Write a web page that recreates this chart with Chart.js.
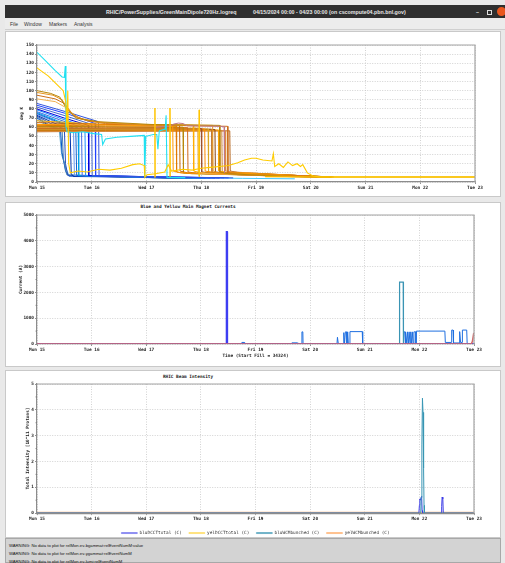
<!DOCTYPE html>
<html><head><meta charset="utf-8">
<script src="https://cdn.jsdelivr.net/npm/chart.js@4.4.1/dist/chart.umd.min.js"></script>
<style>
html,body{margin:0;padding:0;}
body{width:505px;height:563px;position:relative;overflow:hidden;background:#e9e9e9;font-family:"Liberation Sans",sans-serif;}
.a{position:absolute;white-space:pre;}
#titlebar{left:5px;top:5px;width:500px;height:13px;background:#2f2f2f;}
.tt{color:#e6e6e6;font:bold 5.3px "Liberation Sans";line-height:6px;top:9px;}
#menubar{left:5px;top:18px;width:500px;height:11px;background:#ececec;border-bottom:1px solid #cfcfcf;}
.mi{color:#333;font:5px "Liberation Sans";line-height:6px;top:21px;}
.panel{background:#fff;border:1px solid #c9c9c9;box-sizing:border-box;}
.ptitle{font:bold 4.4px "DejaVu Sans Mono",monospace;color:#222;line-height:5px;text-align:center;width:200px;}
canvas{position:absolute;}
#warn{left:5px;top:538px;width:496px;height:25px;background:#d3d3d3;border:1px solid #a8a8a8;box-sizing:border-box;z-index:5;}
.wl{font:4.2px "Liberation Sans";color:#111;line-height:5px;left:9px;z-index:6;}
</style>
</head><body>
<div class="a" id="titlebar"></div>
<div class="a tt" style="left:106px;">RHIC/PowerSupplies/GreenMainDipole720Hz.logreq</div>
<div class="a tt" style="left:253px;">04/15/2024 00:00 - 04/23 00:00 (on cscompute04.pbn.bnl.gov)</div>
<div class="a tt" style="left:476px;">–</div>
<div class="a" style="left:487px;top:10px;width:3px;height:3px;border:0.7px solid #ddd;"></div>
<div class="a" style="left:497px;top:7px;width:9px;height:9px;border-radius:50%;background:#e9571f;"></div>
<div class="a" id="menubar"></div>
<div class="a mi" style="left:10px;">File</div>
<div class="a mi" style="left:24px;">Window</div>
<div class="a mi" style="left:49px;">Markers</div>
<div class="a mi" style="left:74px;">Analysis</div>

<div class="a panel" style="left:5px;top:31px;width:496px;height:166px;"></div>
<div class="a panel" style="left:5px;top:202px;width:496px;height:165px;"></div>
<div class="a panel" style="left:5px;top:370px;width:496px;height:168px;"></div>
<div class="a ptitle" style="left:88px;top:204px;">Blue and Yellow Main Magnet Currents</div>
<div class="a ptitle" style="left:88px;top:374px;">RHIC Beam Intensity</div>

<canvas id="c1" width="496" height="166" style="left:5px;top:31px;"></canvas>
<canvas id="c2" width="496" height="164" style="left:5px;top:203px;"></canvas>
<canvas id="c3" width="496" height="176" style="left:5px;top:370px;"></canvas>

<div class="a" id="warn"></div>
<div class="a wl" style="top:542.5px;">WARNING: No data to plot for relMon.ev-bgammat:relEventNumM:value</div>
<div class="a wl" style="top:550.8px;">WARNING: No data to plot for relMon.ev-ygammat:relEventNumM</div>
<div class="a wl" style="top:559.2px;">WARNING: No data to plot for relMon.ev-lumi:relEventNumM</div>

<script>
// ---------- DATA (x = hours since Mon 15 00:00) ----------
const dayLabels = ['Mon 15','Tue 16','Wed 17','Thu 18','Fri 19','Sat 20','Sun 21','Mon 22','Tue 23'];

// top panel: magnet temperatures (deg K)
const blueTraces = [
 [[0,86],[14,76],[27,66],[27.2,7],[45,6],[86,4.5]],
 [[0,84],[14,74],[25.5,64],[25.7,7],[45,6],[84,4.5]],
 [[0,82],[13,72],[24,63],[24.2,7],[45,6],[82,4.5]],
 [[0,80],[12,70],[22.5,62],[22.7,7],[45,5.8],[80,4.5]],
 [[0,79],[11,69],[21,61],[21.3,7],[45,5.8],[78,4.2]],
 [[0,77],[10,68],[19.5,60],[19.8,7],[45,5.5],[76,4.2]],
 [[0,76],[9,67],[18,59],[18.3,7],[45,5.5],[74,4]],
 [[0,75],[8,67],[17,58],[17.4,7],[45,5.5],[72,4]],
 [[0,74],[8,66],[16,58],[16.4,7],[45,5.5],[70,4]],
 [[0,73],[7,65],[14.5,58],[15,9],[16,6],[45,5.5],[68,4]],
 [[0,72],[6,64],[12,58],[12.5,20],[13.5,7],[45,5.2],[66,4]],
 [[0,71],[5,63],[11,57],[11.6,25],[13,8],[45,5.2],[64,4]],
 [[0,70],[5,62],[10.3,57],[11,32],[12.5,12],[14,6.5],[45,5.2],[62,4]],
 [[0,68],[5,61],[9.8,56],[10.8,30],[13,13],[14,7],[45,5],[60,4]]
];
const orangeTraces = [
 [[0,63],[30,62.5],[59.5,61.5],[59.7,12],[63,10],[95,8],[115,6],[128,5.5]],
 [[0,62],[30,61.5],[61,61],[61.2,11],[65,9.5],[95,8],[115,6],[127,5.5]],
 [[0,65],[30,63],[62.5,62],[62.7,12],[66,10],[95,7.5],[115,6],[126,5.5]],
 [[0,61],[30,60.5],[64,60],[64.2,10],[68,9],[95,7.5],[115,6],[128,5.5]],
 [[0,60.5],[30,60],[66,59.5],[66.2,11],[70,9.5],[95,8],[115,6.5],[129,5.5]],
 [[0,67],[30,63],[68.5,62],[68.7,12],[72,10],[95,8.5],[115,6.5],[128,5.5]],
 [[0,59.5],[30,59],[70.5,59],[70.7,10],[74,9],[95,7.5],[115,6],[127,5.5]],
 [[0,59],[30,58.5],[72,58.5],[72.2,11],[76,10],[95,8],[115,6.5],[129,5.5]],
 [[0,58.5],[30,58.5],[73.5,58],[73.7,12],[77,10.5],[95,9],[115,7],[128,5.5]],
 [[0,58],[30,58],[75,58],[75.2,11],[79,10],[95,9],[115,7],[129,5.5]],
 [[0,57.5],[30,57.5],[76.5,58],[76.7,10],[80,9.5],[95,8.5],[115,6.5],[128,5.5]],
 [[0,57],[30,57],[78,57.5],[78.2,11],[82,10],[95,9],[115,7],[129,5.5]],
 [[0,56.5],[30,56.5],[79.5,57],[79.7,12],[83,10.5],[95,9.5],[115,7],[128,5.5]],
 [[0,56],[30,56],[81,56.5],[81.2,11],[85,10],[95,9],[115,7],[129,5.5]],
 [[0,55.5],[30,55.5],[82.5,56],[82.7,12],[86,11],[100,9],[115,7],[130,5.5]],
 [[0,55],[30,55.5],[84.5,56],[84.7,12],[88,10.5],[100,9],[115,7],[130,5.5]]
];
const highTraces = [
 [[0,100],[6,97],[10,93],[13,80],[17,70],[27,66],[50,63],[80,62],[80.2,11],[84,9],[110,6],[129,5.5]],
 [[0,98],[7,95],[11,90],[14,78],[19,69],[28,65],[50,62.5],[77,62],[77.2,12],[80,9],[110,6],[128,5.5]],
 [[0,95],[8,91],[12,86],[16,73],[22,67],[30,64],[55,62],[83.5,61],[83.7,10],[88,8],[110,6],[129,5.5]],
 [[0,91],[8,88],[13,81],[17,71],[25,66],[40,63],[70,62],[71,61.5],[71.2,10],[75,9],[110,6],[127,5.5]]
];
const cyanTrace = [[0,142],[4,132],[8,122],[11,115],[12,114.5],[12.4,127],[12.7,60],[13.2,55],[16,54],[20,55],[25,53],[28.3,52],[28.8,41],[30,47],[35,49],[41,50],[47,51],[47.2,5.5],[47.7,50],[51,52],[52.5,52],[53,36],[53.6,56],[56.2,58],[56.6,73],[57,5],[65,4.8]];
const cyanLowTrace = [[47,5.5],[70,4.5],[90,4],[113,3.5]];
const yellowTrace = [[0,125],[5,116],[9,106],[11.5,100],[12.6,88],[13.1,60],[13.5,100],[13.9,20],[14.6,10],[18,12],[22,11],[27,14],[32,13],[37,15],[42,19],[45,20],[47,18],[47.3,5],[48.2,8],[52,9],[56,11],[57.5,19],[59,12],[64,14],[68,13],[72,15],[76,16],[80,17],[84,18],[88,21],[91,24],[94,26],[96,26],[99,24],[103,23],[103.6,31],[104.2,17],[106,20],[108,16],[110,22],[112,18],[114,20],[115.5,17],[116.5,19],[118.5,10],[121,6.5],[124,5.5],[192,5.5]];
const yellowSpikes = [
 [[51.6,5],[51.7,81],[51.8,5]],
 [[58.2,6],[58.3,81],[58.4,6]],
 [[71.0,6],[71.1,79],[71.2,6]]
];
const mauveTrace = [[52,60],[58,61],[60,63.5],[62,64.5],[64,64],[66,61.5],[80,61],[82,60.5],[82.2,10]];
const tailTrace = [[100,6],[130,5.5],[192,5.5]];

// middle panel: main magnet currents (A)
const bluCurrentA = [[0,0],[83.1,0],[83.2,4350],[83.6,4350],[83.7,0],[192,0]];
const bluCurrentB = [[89.8,0],[90,60],[91,60],[91.2,0],[111.8,0],[112,45],[114.4,45],[114.6,0],[116.3,0],[116.4,470],[116.8,470],[116.9,0],[131.8,0],[132,260],[132.4,0],[134.6,0],[134.8,440],[135.1,0],[135.5,470],[136,470],[136.2,0],[136.5,470],[136.8,0],[137.3,0],[137.5,480],[142.9,480],[143.1,0],[161.1,0],[161.3,470],[161.7,470],[161.8,0],[162.1,470],[162.5,0],[162.8,470],[163.2,0],[163.5,470],[163.9,0],[164.2,470],[164.6,0],[164.9,470],[165.3,0],[165.6,470],[166.4,470],[166.5,30],[166.7,500],[179.2,500],[179.4,60],[182,60],[182.2,540],[182.8,540],[183,40],[185.5,40],[185.7,480],[186.1,60],[186.8,60],[186.9,540],[188.8,540],[189,0],[192,0]];
const tealCurrent = [[159.1,0],[159.3,2400],[160.9,2400],[161.0,0]];
const yelCurrent = [[0,0],[190.8,0],[191.3,100],[191.9,430]];

// bottom panel: beam intensity (10^11 protons)
const bluDCCTtotal = [[0,0],[167.8,0],[168,0.3],[168.2,0.55],[168.5,0.5],[168.8,0.62],[169,0.65],[169.2,0.1],[169.4,0],[177.6,0],[177.8,0.25],[178,0.62],[178.3,0.55],[178.5,0],[192,0]];
const yelDCCTtotal = [[0,0],[192,0]];
const bluWCMbunched = [[0,0],[168.6,0],[168.8,0.6],[169.1,2.64],[169.35,4.45],[169.6,3.9],[169.85,1.74],[170.05,0.3],[170.2,0],[192,0]];
const yelWCMbunched = [[0,0],[192,0]];

// ---------- STYLES ----------
const blueColors = ['#3355dd','#2244ff','#4466cc','#0000dd','#1e90ff','#4169e1','#00a0e6','#1060d0','#6495ed','#0033aa','#2a52be','#4682b4','#0050c8','#5fa8d0'];
const orangeColors = ['#ff9900','#e07b00','#c8640a','#b8860b','#d2691e','#ffae00','#e6a020','#a0522d','#ff8c00','#daa520','#c07830','#8b4513','#ffa500','#cd853f','#e09040','#b5651d'];
const highColors = ['#b8860b','#e69520','#cc6f1a','#f0b050'];

const TF = {family:'"DejaVu Sans Mono", monospace', size:4.4, weight:'bold'};
const GRID = {color:'#c6c6c6', lineWidth:0.8, tickLength:2, tickColor:'#777', tickWidth:0.8};
const BORDER = {display:true, color:'#8c8c8c', width:1.2, dash:[1,1.5]};

function xAxis(h, title){
  return {type:'linear', min:0, max:192,
    afterFit(s){ s.height = h; },
    ticks:{stepSize:24, autoSkip:false, maxRotation:0, minRotation:0, padding:1, color:'#222', font:TF,
      callback:(v)=>dayLabels[Math.round(v/24)]},
    grid:GRID, border:BORDER,
    title: title ? {display:true, text:title, color:'#222', font:TF, padding:{top:0,bottom:1.3}} : {display:false}};
}
function yAxis(w, max, step, title, tpad){
  return {type:'linear', min:0, max:max,
    afterFit(s){ s.width = w; },
    ticks:{stepSize:step, autoSkip:false, padding:1, color:'#222', font:TF, callback:(v)=>String(v)},
    grid:GRID, border:BORDER,
    title:{display:true, text:title, color:'#222', font:TF, padding:{top:tpad,bottom:0}}};
}
function ds(label, data, color, width){
  return {label, data, borderColor:color, backgroundColor:color, borderWidth:width||1, pointRadius:0, tension:0, fill:false};
}
const framePlugin = {id:'frame', afterDraw(c){
  const a=c.chartArea, ctx=c.ctx; ctx.save(); ctx.strokeStyle='#a4a4a4'; ctx.lineWidth=1.2;
  ctx.beginPath(); ctx.moveTo(a.left,a.top); ctx.lineTo(a.right,a.top); ctx.lineTo(a.right,a.bottom); ctx.stroke(); ctx.restore();
}};
const minorPlugin = {id:'minorTicks', afterDraw(c, args, opts){
  if(!opts || !opts.step) return; const s=c.scales.y, ctx=c.ctx;
  ctx.save(); ctx.strokeStyle='#777'; ctx.lineWidth=0.8; ctx.beginPath();
  for(let v=opts.step; v<s.max; v+=opts.step*2){ const y=s.getPixelForValue(v); ctx.moveTo(s.right-1.5,y); ctx.lineTo(s.right,y); }
  ctx.stroke(); ctx.restore();
}};
Chart.register(framePlugin, minorPlugin);

function baseOpts(pad, xs, ys, extraPlugins){
  return {responsive:false, animation:false, events:[], layout:{padding:pad},
    scales:{x:xs, y:ys},
    plugins:Object.assign({legend:{display:false}, tooltip:{enabled:false}}, extraPlugins||{})};
}

// ---------- CHART 1 ----------
const d1 = [];
yellowSpikes.forEach(t=>d1.push(ds('yelSpike', t, '#ffc400', 1)));
d1.push(ds('yellow', yellowTrace, '#ffcc00', 1.1));
d1.push(ds('tail', tailTrace, '#f2b400', 1.3));
d1.push(ds('cyan', cyanTrace, '#22e0f0', 1.1));
d1.push(ds('mauve', mauveTrace, '#c07888', 1));
highTraces.forEach((t,i)=>d1.push(ds('high'+i, t, highColors[i], 1)));
orangeTraces.forEach((t,i)=>d1.push(ds('orange'+i, t, orangeColors[i], 1)));
blueTraces.forEach((t,i)=>d1.push(ds('blue'+i, t, blueColors[i], 1)));
d1.push(ds('cyanLow', cyanLowTrace, '#40c8ff', 1));
new Chart(document.getElementById('c1'), {type:'line', data:{datasets:d1},
  options: baseOpts({left:13, right:26, top:14, bottom:5}, xAxis(10), yAxis(19,150,10,'deg K',1.6))});

// ---------- CHART 2 ----------
new Chart(document.getElementById('c2'), {type:'line', data:{datasets:[
  ds('yelCurrent', yelCurrent, '#d46a6a', 1.5),
  ds('bluCurrentA', bluCurrentA, '#3e3ef2', 1.3),
  ds('tealCurrent', tealCurrent, '#3a94b4', 1.2),
  ds('bluCurrentB', bluCurrentB, '#1f6fe0', 1)
]}, options: baseOpts({left:11, right:27, top:12, bottom:7}, xAxis(16,'Time (Start Fill = 34324)'), yAxis(21,5000,1000,'Current (A)',1.8), {minorTicks:{step:500}})});

// ---------- CHART 3 ----------
const legendColors = ['#6060ee','#ffd84d','#3896b4','#ffaa60'];
new Chart(document.getElementById('c3'), {type:'line', data:{datasets:[
  ds('bluWCMbunched (C)', bluWCMbunched, '#3896b4', 1),
  ds('bluDCCTtotal (C)', bluDCCTtotal, '#3a3ae6', 1),
  ds('yelDCCTtotal (C)', yelDCCTtotal, '#ffd84d', 1),
  ds('yelWCMbunched (C)', yelWCMbunched, '#ffb070', 2.5)
]}, options: baseOpts({left:19, right:27, top:14, bottom:0.75}, xAxis(10.75), yAxis(13,5,1,'Total Intensity [10^11 Protons]',1.3),
  {minorTicks:{step:0.5},
   legend:{display:true, position:'bottom', fullSize:false,
     labels:{boxWidth:16, boxHeight:1, padding:7, color:'#333', font:{family:'"DejaVu Sans Mono", monospace', size:4.4},
       generateLabels:(c)=>{
         const order=['bluDCCTtotal (C)','yelDCCTtotal (C)','bluWCMbunched (C)','yelWCMbunched (C)'];
         return order.map((name,k)=>({text:name, fillStyle:legendColors[k], strokeStyle:legendColors[k], lineWidth:0.4, hidden:false,
           datasetIndex:c.data.datasets.findIndex(d=>d.label===name), fontColor:'#333'}));
       }}}})});
</script>
</body></html>
